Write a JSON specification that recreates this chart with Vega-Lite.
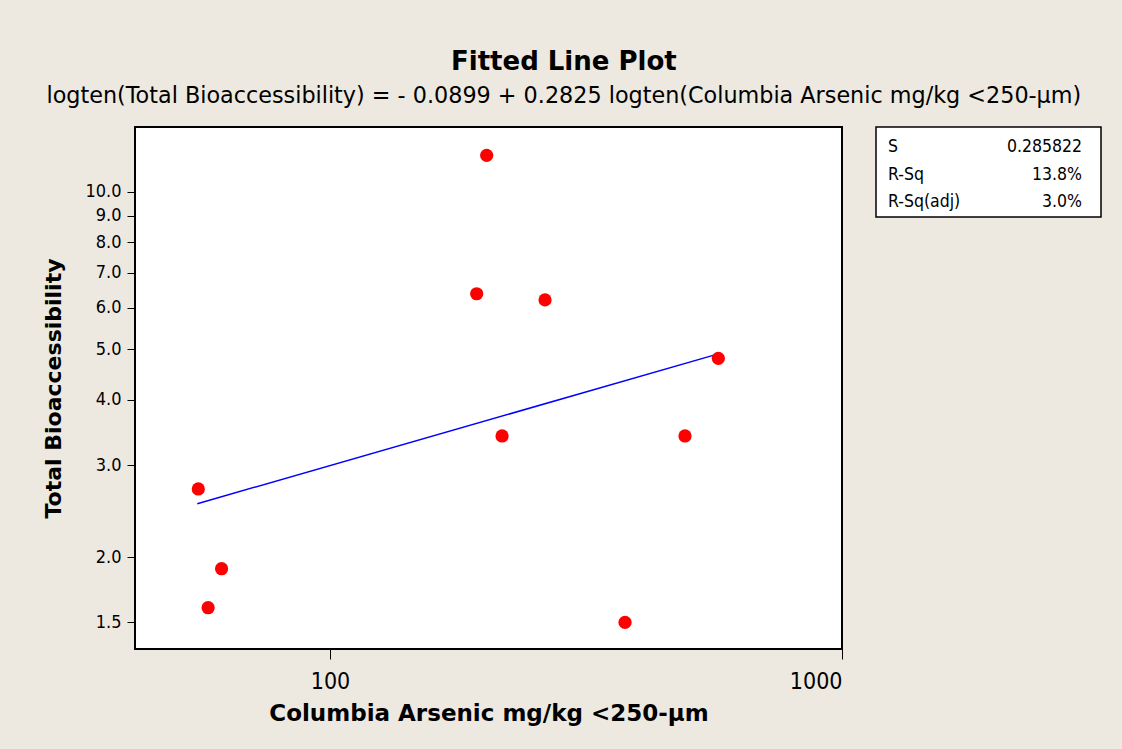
{
  "$schema": "https://vega.github.io/schema/vega-lite/v6.json",
  "background": "#EDE9E0",
  "padding": {"left": 41, "top": 48, "right": 25, "bottom": 34},
  "title": {
    "text": "Fitted Line Plot",
    "subtitle": "logten(Total Bioaccessibility) = - 0.0899 + 0.2825 logten(Columbia Arsenic mg/kg <250-µm)",
    "anchor": "middle",
    "dx": -8,
    "font": "DejaVu Sans",
    "fontSize": 26,
    "fontWeight": "bold",
    "color": "#000000",
    "subtitleFont": "DejaVu Sans",
    "subtitleFontSize": 22.3,
    "subtitleColor": "#000000",
    "subtitlePadding": 10,
    "offset": 19
  },
  "datasets": {
    "obs": [
      {"arsenic": 55.3, "bioacc": 2.70},
      {"arsenic": 57.8, "bioacc": 1.60},
      {"arsenic": 61.4, "bioacc": 1.90},
      {"arsenic": 193.4, "bioacc": 6.38},
      {"arsenic": 202.3, "bioacc": 11.74},
      {"arsenic": 216.8, "bioacc": 3.41},
      {"arsenic": 263.0, "bioacc": 6.21},
      {"arsenic": 376.9, "bioacc": 1.50},
      {"arsenic": 493.6, "bioacc": 3.41},
      {"arsenic": 573.4, "bioacc": 4.80}
    ],
    "fit": [
      {"arsenic": 55.05, "bioacc": 2.53},
      {"arsenic": 573.4, "bioacc": 4.895}
    ],
    "stats": [
      {"row": 1, "label": "S", "value": "0.285822"},
      {"row": 2, "label": "R-Sq", "value": "13.8%"},
      {"row": 3, "label": "R-Sq(adj)", "value": "3.0%"}
    ]
  },
  "spacing": 34,
  "bounds": "flush",
  "hconcat": [
    {
      "width": 707,
      "height": 522,
      "view": {"fill": "#FFFFFF", "stroke": "#000000", "strokeWidth": 2},
      "encoding": {
        "x": {
          "field": "arsenic",
          "type": "quantitative",
          "scale": {"type": "log", "domain": [41.6, 1000], "nice": false},
          "title": "Columbia Arsenic mg/kg <250-µm",
          "axis": {
            "values": [100, 1000],
            "format": "d",
            "grid": false,
            "domain": false,
            "tickSize": 10,
            "tickColor": "#000000",
            "labelFont": "DejaVu Sans Condensed, Liberation Sans, sans-serif",
            "labelFontSize": 23,
            "labelColor": "#000000",
            "labelPadding": 11,
            "titleFont": "DejaVu Sans",
            "titleFontSize": 23,
            "titleFontWeight": "bold",
            "titleColor": "#000000",
            "titlePadding": 9
          }
        },
        "y": {
          "field": "bioacc",
          "type": "quantitative",
          "scale": {"type": "log", "domain": [1.334, 13.3], "nice": false},
          "title": "Total Bioaccessibility",
          "axis": {
            "values": [1.5, 2, 3, 4, 5, 6, 7, 8, 9, 10],
            "format": ".1f",
            "grid": false,
            "domain": false,
            "tickSize": 8,
            "tickColor": "#000000",
            "labelFont": "DejaVu Sans Condensed, Liberation Sans, sans-serif",
            "labelFontSize": 18,
            "labelColor": "#000000",
            "labelPadding": 6,
            "titleFont": "DejaVu Sans",
            "titleFontSize": 22,
            "titleFontWeight": "bold",
            "titleColor": "#000000",
            "titlePadding": 19
          }
        }
      },
      "layer": [
        {
          "data": {"name": "fit"},
          "mark": {"type": "line", "color": "#0000FF", "strokeWidth": 1.5, "clip": true}
        },
        {
          "data": {"name": "obs"},
          "mark": {"type": "circle", "color": "#FF0000", "opacity": 1, "size": 175}
        }
      ]
    },
    {
      "width": 225,
      "height": 90,
      "data": {"name": "stats"},
      "view": {"fill": "#FFFFFF", "stroke": "#000000", "strokeWidth": 1.5},
      "encoding": {
        "y": {
          "field": "row",
          "type": "quantitative",
          "scale": {"domain": [0.273, 3.545], "reverse": true, "nice": false, "zero": false},
          "axis": null
        }
      },
      "layer": [
        {
          "mark": {"type": "text", "align": "left", "baseline": "middle", "dx": 12, "fontSize": 17.5, "font": "DejaVu Sans Condensed, Liberation Sans, sans-serif", "color": "#000000"},
          "encoding": {
            "x": {"datum": 0, "type": "quantitative", "scale": {"domain": [0, 1], "nice": false}, "axis": null},
            "text": {"field": "label"}
          }
        },
        {
          "mark": {"type": "text", "align": "right", "baseline": "middle", "dx": -19, "fontSize": 17.5, "font": "DejaVu Sans Condensed, Liberation Sans, sans-serif", "color": "#000000"},
          "encoding": {
            "x": {"datum": 1, "type": "quantitative"},
            "text": {"field": "value"}
          }
        }
      ]
    }
  ]
}
